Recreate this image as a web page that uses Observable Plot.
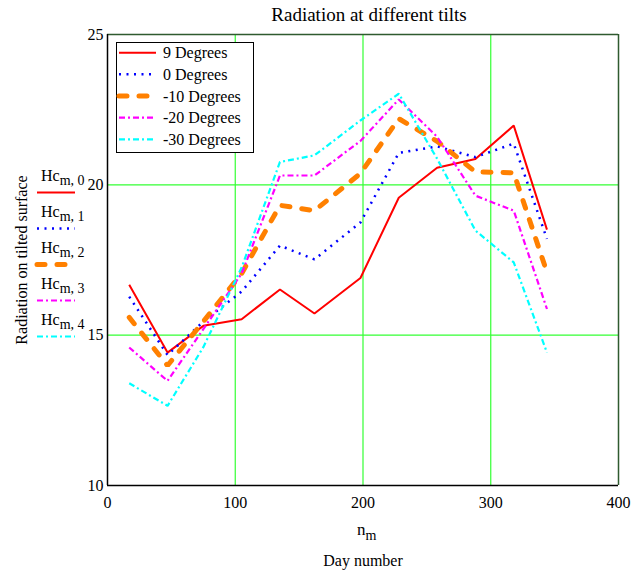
<!DOCTYPE html>
<html>
<head>
<meta charset="utf-8">
<script src="https://cdn.jsdelivr.net/npm/d3@7"></script>
<script src="https://cdn.jsdelivr.net/npm/@observablehq/plot@0.6"></script>
<style>
  body { margin: 0; background: #fff; }
  #wrap { position: relative; width: 632px; height: 573px; font-family: "Liberation Serif", "Times New Roman", serif; }
  #wrap svg.overlay { position: absolute; left: 0; top: 0; pointer-events: none; }
</style>
</head>
<body>
<div id="wrap"></div>
<script>
// ---- data ----
const days   = [17, 47, 75, 105, 135, 162, 198, 228, 258, 288, 318, 344];
const deg9   = [16.68, 14.42, 15.31, 15.53, 16.52, 15.72, 16.90, 19.57, 20.57, 20.86, 21.97, 18.51];
const deg0   = [16.28, 14.34, 15.45, 16.45, 17.98, 17.52, 18.75, 21.06, 21.28, 20.92, 21.37, 18.20];
const degm10 = [15.59, 13.99, 15.45, 17.05, 19.32, 19.14, 20.38, 22.20, 21.45, 20.43, 20.40, 17.09];
const degm20 = [14.59, 13.48, 15.20, 17.05, 20.31, 20.31, 21.46, 22.84, 21.60, 19.64, 19.14, 15.87];
const degm30 = [13.40, 12.65, 14.60, 17.25, 20.76, 20.98, 22.14, 23.03, 20.87, 18.48, 17.42, 14.42];
const seriesNames = ["9 Degrees", "0 Degrees", "-10 Degrees", "-20 Degrees", "-30 Degrees"];
const seriesValues = [deg9, deg0, degm10, degm20, degm30];
const xTicks = [0, 100, 200, 300, 400];
const yTicks = [10, 15, 20, 25];
const titleText = "Radiation at different tilts";
const xLabel = "Day number";
const yLabel = "Radiation on tilted surface";

// ---- styles ----
const styles = [
  {stroke: "#ff0000", strokeWidth: 2, dash: null, cap: "butt"},
  {stroke: "#0000ff", strokeWidth: 2.5, dash: "2,5.5", cap: "butt"},
  {stroke: "#ff8000", strokeWidth: 5, dash: "8,12", cap: "round"},
  {stroke: "#ff00ff", strokeWidth: 2.2, dash: "6,3,2,3", cap: "butt"},
  {stroke: "#00ffff", strokeWidth: 2.2, dash: "6,3,2,3", cap: "butt"}
];

const rows = seriesValues.map((vals, s) => days.map((d, i) => ({day: d, value: vals[i], s})));

const font = '"Liberation Serif", "Times New Roman", serif';
const W = 632, H = 573, mL = 107, mR = 14, mT = 34, mB = 88;

const plot = Plot.plot({
  width: W, height: H,
  marginLeft: mL, marginRight: mR, marginTop: mT, marginBottom: mB,
  style: {fontFamily: font, fontSize: "16px", color: "#000", background: "transparent", overflow: "visible"},
  x: {domain: [0, 400], ticks: xTicks, tickSize: 0, tickPadding: 11, label: null},
  y: {domain: [10, 25], ticks: yTicks, tickSize: 0, tickPadding: 4, label: null},
  marks: [
    Plot.ruleX([100, 200, 300], {stroke: "#33ff33", strokeWidth: 1.2}),
    Plot.ruleY([15, 20], {stroke: "#33ff33", strokeWidth: 1.2}),
    Plot.ruleY([25], {stroke: "#2f5a2f", strokeWidth: 1.5}),
    Plot.ruleX([400], {stroke: "#2f5a2f", strokeWidth: 1.5}),
    Plot.ruleX([0], {stroke: "#000", strokeWidth: 1.5}),
    Plot.ruleY([10], {stroke: "#000", strokeWidth: 1.5}),
    ...rows.map((r, s) => Plot.line(r, {
      x: "day", y: "value",
      stroke: styles[s].stroke, strokeWidth: styles[s].strokeWidth,
      strokeDasharray: styles[s].dash || undefined,
      strokeLinecap: styles[s].cap, strokeLinejoin: "miter"
    })),
    Plot.axisX({ticks: xTicks, tickSize: 0, tickPadding: 11, fontSize: 16, label: null}),
    Plot.axisY({ticks: yTicks, tickSize: 0, tickPadding: 4, fontSize: 16, label: null}),
    Plot.text([titleText], {frameAnchor: "top", dy: -20, dx: 6, fontSize: 19, lineAnchor: "middle", text: d => d}),
    Plot.text([xLabel], {frameAnchor: "bottom", dy: 75, fontSize: 16, lineAnchor: "middle", text: d => d}),
    Plot.text([yLabel], {frameAnchor: "left", dx: -86, rotate: -90, fontSize: 16, textAnchor: "middle", lineAnchor: "middle", text: d => d})
  ]
});

const wrap = document.getElementById("wrap");
wrap.appendChild(plot);

// ---- overlay: legends and subscripted labels ----
const ov = d3.select(wrap).append("svg").attr("class", "overlay")
  .attr("width", W).attr("height", H)
  .style("font-family", font);

function sample(g, s, x1, x2, y) {
  g.append("line").attr("x1", x1).attr("x2", x2).attr("y1", y).attr("y2", y)
    .attr("stroke", styles[s].stroke).attr("stroke-width", styles[s].strokeWidth)
    .attr("stroke-dasharray", styles[s].dash)
    .attr("stroke-linecap", styles[s].cap);
}

// boxed legend inside the plot
const lg = ov.append("g");
lg.append("rect").attr("x", 116.5).attr("y", 42.5).attr("width", 137).attr("height", 110)
  .attr("fill", "#fff").attr("stroke", "#000").attr("stroke-width", 1);
seriesNames.forEach((name, s) => {
  const y = 52.7 + 21.65 * s;
  sample(lg, s, 119, 156, y);
  lg.append("text").attr("x", 163).attr("y", y).attr("dy", "0.35em")
    .attr("font-size", 16).text(name);
});

// left trace labels Hc_{m,i}
const ll = ov.append("g");
seriesNames.forEach((name, s) => {
  const ly = 192.5 + 36 * s;
  const t = ll.append("text").attr("x", 41).attr("y", ly - 12).attr("font-size", 16);
  t.append("tspan").text("Hc");
  t.append("tspan").attr("font-size", 14).attr("dy", 4).text("m, " + s);
  sample(ll, s, 37, 75, ly);
});

// x variable label n_m
const nm = ov.append("text").attr("x", 357).attr("y", 535).attr("font-size", 17);
nm.append("tspan").text("n");
nm.append("tspan").attr("font-size", 14).attr("dy", 5).text("m");
</script>
</body>
</html>
